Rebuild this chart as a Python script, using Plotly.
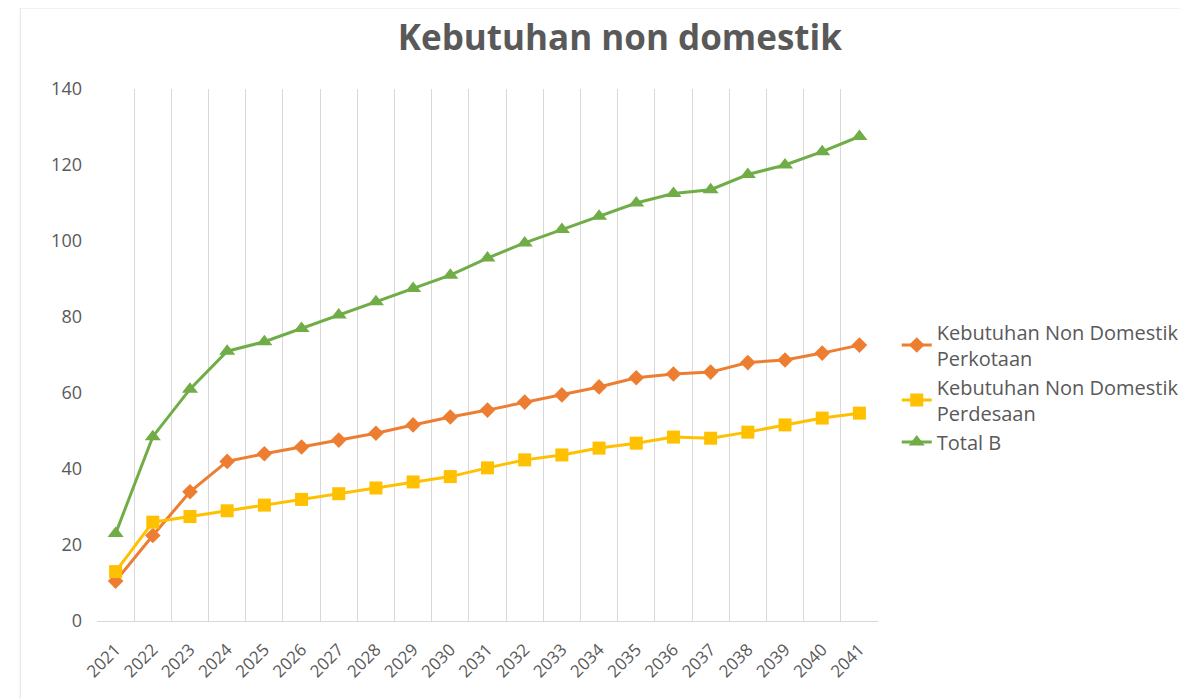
import plotly.graph_objects as go

years = [str(y) for y in range(2021, 2042)]

perkotaan = [10.5, 22.5, 34, 42, 44, 45.8, 47.6, 49.4, 51.6, 53.7, 55.5,
             57.6, 59.5, 61.6, 64, 65, 65.5, 68, 68.7, 70.5, 72.6]
perdesaan = [13, 26, 27.5, 29, 30.5, 32, 33.5, 35, 36.6, 38, 40.3,
             42.4, 43.7, 45.5, 46.8, 48.4, 48.1, 49.7, 51.6, 53.4, 54.7]
total_b = [23, 48.5, 61, 71, 73.5, 77, 80.5, 84, 87.5, 91, 95.5,
           99.5, 103, 106.5, 110, 112.5, 113.5, 117.5, 120, 123.5, 127.5]

series_names = ["Kebutuhan Non Domestik<br>Perkotaan",
                "Kebutuhan Non Domestik<br>Perdesaan",
                "Total B"]

fig = go.Figure()
fig.add_trace(go.Scatter(x=years, y=perkotaan, name=series_names[0], mode="lines+markers",
                         line=dict(color="#ED7D31", width=3),
                         marker=dict(symbol="diamond", size=12, color="#ED7D31")))
fig.add_trace(go.Scatter(x=years, y=perdesaan, name=series_names[1], mode="lines+markers",
                         line=dict(color="#FFC000", width=3),
                         marker=dict(symbol="square", size=13, color="#FFC000")))
fig.add_trace(go.Scatter(x=years, y=total_b, name=series_names[2], mode="lines+markers",
                         line=dict(color="#70AD47", width=3),
                         marker=dict(symbol="triangle-up", size=14, color="#70AD47")))

# plot area 783 x 532 px; page body adds 8px offset, so margins are trimmed by 8
L, T, W, H = 89, 81, 783, 532

# faint chart border like the Excel chart area
fig.add_shape(type="rect", xref="paper", yref="paper",
              x0=(12 - L) / W, x1=(1195 - L) / W,
              y0=-(699 - T - H + 10) / H, y1=(T + H - 0) / H,
              line=dict(color="#E3E3E3", width=1), layer="below")

fig.update_layout(
    width=1188, height=699,
    margin=dict(l=L, r=1188 - L - W, t=T, b=699 - T - H),
    paper_bgcolor="white", plot_bgcolor="white",
    font=dict(family="Open Sans", color="#595959", size=18),
    title=dict(text="<b>Kebutuhan non domestik</b>", x=0.515, xref="container",
               xanchor="center", y=0.957, yanchor="middle",
               font=dict(size=35, color="#595959", family="Open Sans")),
    legend=dict(x=1.024, y=0.58, xanchor="left", yanchor="top", valign="middle",
                font=dict(size=20, color="#595959"), itemwidth=30),
    showlegend=True,
)
fig.update_xaxes(type="category", tickangle=-45, showgrid=True, gridcolor="#D9D9D9",
                 tickson="boundaries", ticks="", showline=True, linecolor="#D9D9D9",
                 tickfont=dict(size=17, color="#595959"), range=[-0.5, 20.5],
                 automargin=False, ticklabelstandoff=11)
fig.update_yaxes(range=[0, 140], dtick=20, showgrid=False, zeroline=False,
                 showline=False, ticks="", ticklabelstandoff=14, automargin=False,
                 tickfont=dict(size=18, color="#595959"))

fig.write_html("out.html")
